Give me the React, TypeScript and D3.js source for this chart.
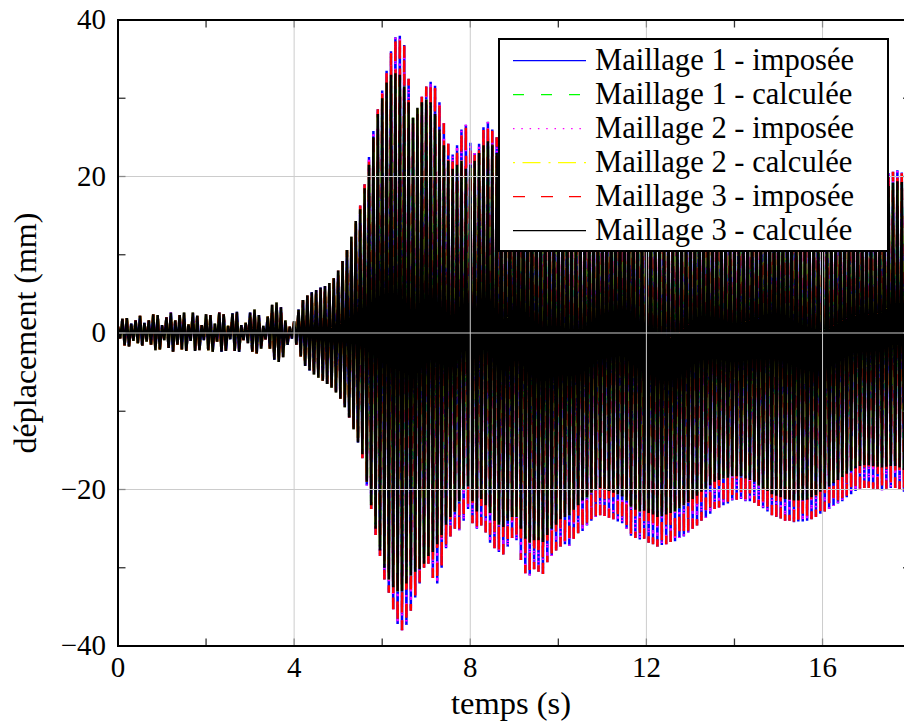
import React from "react";
import * as d3 from "d3";

// Carrier period of the oscillation (one up/down cycle per sample)
const CYCLE = 0.1;

// Envelope peaks, t = 0.0 .. 5.4 s (all meshes coincide)
const earlyUpper = [
  0.8, 1.8, 1.9, 1.2, 1.6, 2.2, 1.3, 1.6, 2.4, 2.3,
  1.0, 2.0, 2.6, 1.6, 2.3, 2.6, 1.1, 2.6, 2.2, 1.0,
  2.4, 2.3, 1.2, 2.6, 2.4, 0.9, 2.5, 2.7, 1.0, 1.3,
  2.6, 3.0, 2.3, 0.9, 2.1, 3.6, 3.9, 3.3, 1.6, 0.8,
  1.5, 3.0, 4.2, 4.8, 5.2, 5.5, 5.8, 6.0, 6.4, 7.0,
  8.0, 9.2, 10.6, 12.3, 14.3,
];
const earlyLower = [
  -0.7, -1.6, -1.7, -1.0, -1.3, -1.6, -1.1, -1.5, -2.2, -2.1,
  -0.9, -1.9, -2.4, -1.5, -2.1, -2.3, -1.0, -2.3, -2.2, -0.9,
  -2.2, -2.4, -1.1, -2.4, -2.3, -0.8, -2.3, -2.4, -0.9, -1.3,
  -2.4, -2.6, -2.0, -0.8, -2.0, -3.4, -3.7, -3.1, -1.5, -0.7,
  -1.5, -3.0, -4.2, -4.8, -5.3, -5.7, -6.1, -6.5, -7.0, -7.6,
  -8.4, -9.5, -10.8, -12.3, -14.0,
];

// t = 5.5 .. 17.9 s : imposée (outer envelope)
const impUpper = [
  16.3, 19.0, 22.5, 25.8, 28.6,
  31.0, 33.5, 36.0, 37.8, 38.0, 36.8, 32.5, 27.5, 28.0, 30.2,
  31.5, 32.1, 31.6, 29.5, 26.8, 24.2, 22.8, 24.0, 26.0, 26.6,
  24.3, 23.0, 24.2, 26.3, 27.0, 26.0, 25.0, 24.0, 23.5, 24.5,
  26.0, 27.0, 27.5, 27.0, 26.0, 25.0, 24.5, 24.0, 23.5, 23.0,
  22.5, 22.0, 21.5, 21.0, 20.5, 20.0, 20.0, 20.5, 21.0, 21.5,
  22.0, 22.5, 23.0, 23.5, 24.0, 24.0, 24.0, 23.5, 23.0, 22.5,
  22.0, 21.5, 21.0, 20.5, 20.0, 19.5, 19.5, 20.0, 20.5, 21.0,
  21.5, 22.0, 22.0, 22.0, 21.5, 21.0, 20.5, 20.0, 19.5, 19.0,
  19.0, 19.0, 19.5, 20.0, 20.5, 21.0, 21.5, 22.0, 22.5, 23.0,
  23.0, 23.0, 22.5, 22.0, 21.5, 21.0, 20.5, 20.0, 19.5, 19.0,
  19.0, 19.0, 19.0, 19.5, 19.5, 20.0, 20.0, 20.5, 20.0, 20.0,
  19.5, 19.5, 19.8, 20.0, 20.2, 20.4, 20.6, 20.8, 20.5, 20.2,
];
const impLower = [
  -16.0, -19.5, -22.5, -25.8, -28.5,
  -31.5, -33.2, -35.3, -37.2, -38.0, -37.3, -35.5, -33.8, -32.0, -30.0,
  -29.5, -31.3, -32.0, -30.0, -27.5, -26.0, -25.0, -25.2, -24.0, -22.5,
  -24.3, -25.0, -24.6, -25.5, -26.8, -27.5, -28.0, -28.3, -27.3, -26.2,
  -26.5, -29.0, -30.7, -31.0, -30.2, -30.5, -30.8, -29.3, -28.5, -27.8,
  -27.3, -27.0, -27.2, -26.3, -25.6, -25.3, -24.6, -24.0, -23.5, -23.3,
  -23.4, -23.6, -23.8, -24.1, -24.3, -25.0, -25.9, -26.2, -26.4, -26.3,
  -26.8, -27.0, -27.3, -27.1, -27.0, -26.7, -26.6, -26.2, -26.0, -25.5,
  -25.0, -24.6, -24.0, -23.6, -23.1, -22.5, -22.3, -22.0, -21.8, -21.4,
  -21.3, -21.2, -21.5, -21.5, -21.7, -22.1, -22.4, -22.8, -23.3, -23.5,
  -23.7, -24.0, -24.0, -24.2, -24.1, -24.1, -24.0, -23.8, -23.5, -23.1,
  -22.8, -22.5, -22.1, -21.8, -21.5, -21.0, -20.6, -20.2, -19.9, -19.8,
  -19.8, -19.9, -20.0, -20.1, -19.9, -19.8, -19.8, -20.0, -20.3, -20.5,
];

// t = 5.5 .. 17.9 s : calculée (inner envelope)
const calUpper = [
  15.8, 18.5, 21.5, 25.0, 28.0,
  30.0, 32.0, 33.0, 33.2, 33.0, 31.5, 29.5, 27.5, 28.8, 29.5,
  29.8, 29.5, 28.0, 26.0, 24.0, 22.0, 21.0, 21.5, 22.0, 21.0,
  21.5, 22.0, 23.0, 24.0, 24.5, 24.0, 23.0, 22.0, 21.5, 22.0,
  23.0, 24.0, 24.5, 24.0, 23.0, 22.0, 21.5, 21.0, 20.5, 20.0,
  19.5, 19.0, 18.5, 18.0, 17.5, 17.0, 17.0, 17.5, 18.0, 18.5,
  19.0, 19.5, 20.0, 20.5, 21.0, 21.0, 21.0, 20.5, 20.0, 19.5,
  19.0, 18.5, 18.0, 17.5, 17.0, 16.5, 16.5, 17.0, 17.5, 18.0,
  18.5, 19.0, 19.0, 19.0, 18.5, 18.0, 17.5, 17.0, 16.5, 16.0,
  16.0, 16.0, 16.5, 17.0, 17.5, 18.0, 18.5, 19.0, 19.5, 20.0,
  20.0, 20.0, 19.5, 19.0, 18.5, 18.0, 17.5, 17.0, 16.5, 16.0,
  16.0, 16.0, 16.0, 16.5, 16.5, 17.0, 17.0, 17.5, 17.0, 17.0,
  17.0, 17.0, 17.5, 17.5, 18.0, 18.8, 19.2, 19.4, 19.3, 19.0,
];
const calLower = [
  -15.5, -19.0, -22.0, -25.0, -27.8,
  -30.0, -31.5, -32.5, -33.0, -33.0, -32.0, -31.0, -30.5, -30.2, -29.5,
  -28.5, -28.0, -27.0, -25.8, -24.5, -23.5, -22.8, -21.5, -20.0, -19.6,
  -21.5, -22.8, -21.2, -22.0, -23.0, -24.0, -24.5, -24.8, -24.0, -23.5,
  -23.5, -25.0, -26.3, -26.8, -26.5, -26.5, -26.7, -25.8, -25.0, -24.5,
  -23.8, -23.5, -23.3, -22.6, -22.0, -21.4, -21.0, -20.4, -20.0, -19.8,
  -19.9, -20.2, -20.4, -20.6, -20.9, -21.4, -22.2, -22.6, -22.8, -22.7,
  -23.0, -23.2, -23.5, -23.4, -23.2, -23.0, -22.8, -22.4, -22.0, -21.6,
  -21.2, -20.8, -20.3, -19.9, -19.5, -19.0, -18.8, -18.6, -18.5, -18.3,
  -18.3, -18.3, -18.6, -18.8, -19.0, -19.5, -19.9, -20.2, -20.6, -20.8,
  -21.0, -21.2, -21.3, -21.4, -21.4, -21.4, -21.3, -21.0, -20.7, -20.3,
  -20.0, -19.6, -19.2, -18.8, -18.4, -18.0, -17.6, -17.3, -17.0, -16.9,
  -16.9, -17.0, -17.1, -17.2, -17.1, -17.0, -17.0, -17.2, -17.5, -17.7,
];

const seriesNames = [
  "Maillage 1 - imposée",
  "Maillage 1 - calculée",
  "Maillage 2 - imposée",
  "Maillage 2 - calculée",
  "Maillage 3 - imposée",
  "Maillage 3 - calculée",
];
const seriesGroups = ["imp", "cal", "imp", "cal", "imp", "cal"];
const seriesColors = ["#0000ff", "#00ff00", "#ff00ff", "#ffff00", "#ff0000", "#000000"];
const seriesDashes = [null, "11 17", "1.5 6.8", "2 7.5 18 8", "12 16", null];

const xTicks = [0, 4, 8, 12, 16];
const xTickLabels = ["0", "4", "8", "12", "16"];
const xMinorTicks = [2, 6, 10, 14];
const yTicks = [-40, -20, 0, 20, 40];
const yTickLabels = ["−40", "−20", "0", "20", "40"];
const yMinorTicks = [-30, -10, 10, 30];
const xGrid = [4, 8, 12, 16];
const yGrid = [-20, 0, 20];

const W = 904;
const H = 724;
const FONT = "Liberation Serif";

function buildSeries(upper: number[], lower: number[]): [number, number][] {
  const pts: [number, number][] = [];
  for (let i = 0; i < upper.length; i++) {
    pts.push([i * CYCLE, upper[i]]);
    pts.push([i * CYCLE + CYCLE / 2, lower[i]]);
  }
  return pts;
}

export default function App() {
  const x = d3.scaleLinear().domain([0, 18]).range([118, 910.6]);
  const y = d3.scaleLinear().domain([-40, 40]).range([646, 20]);
  const line = d3
    .line<[number, number]>()
    .x((d) => x(d[0]))
    .y((d) => y(d[1]));

  const x0 = x(0), x1 = x(18), y0 = y(-40), y1 = y(40);
  const tickLen = 7.5;

  const series = seriesNames.map((name, i) => {
    const up = earlyUpper.concat(seriesGroups[i] === "imp" ? impUpper : calUpper);
    const lo = earlyLower.concat(seriesGroups[i] === "imp" ? impLower : calLower);
    return { name, color: seriesColors[i], dash: seriesDashes[i], pts: buildSeries(up, lo) };
  });

  const legX = 499, legY = 39, legW = 389, legH = 212;
  const rowY0 = 60.7, rowDy = 34;

  return (
    <svg
      width={W}
      height={H}
      style={{ position: "absolute", left: 0, top: 0, background: "#fff" }}
    >
      <defs>
        <clipPath id="plotclip">
          <rect x={x0} y={y1} width={x1 - x0} height={y0 - y1} />
        </clipPath>
      </defs>
      <rect x={0} y={0} width={W} height={H} fill="#fff" />

      <g clipPath="url(#plotclip)">
        {series.map((s, i) => (
          <path
            key={i}
            d={line(s.pts) || ""}
            fill="none"
            stroke={s.color}
            strokeWidth={2.5}
            strokeDasharray={s.dash || undefined}
            strokeLinejoin="miter"
            strokeMiterlimit={3}
          />
        ))}
      </g>

      {/* grid on top of data */}
      <g stroke="#cccccc" strokeWidth={1}>
        {xGrid.map((v) => (
          <line key={"gx" + v} x1={x(v)} x2={x(v)} y1={y1} y2={y0} />
        ))}
        {yGrid.map((v) => (
          <line key={"gy" + v} x1={x0} x2={x1} y1={y(v)} y2={y(v)} />
        ))}
      </g>

      {/* ticks */}
      <g strokeWidth={1.3}>
        {xTicks.map((v) => (
          <g key={"xt" + v} stroke="#8a8a8a">
            <line x1={x(v)} x2={x(v)} y1={y0} y2={y0 - tickLen} />
            <line x1={x(v)} x2={x(v)} y1={y1} y2={y1 + tickLen} />
          </g>
        ))}
        {xMinorTicks.map((v) => (
          <g key={"xm" + v} stroke="#333">
            <line x1={x(v)} x2={x(v)} y1={y0} y2={y0 - tickLen} />
            <line x1={x(v)} x2={x(v)} y1={y1} y2={y1 + tickLen} />
          </g>
        ))}
        {yTicks.map((v) => (
          <g key={"yt" + v} stroke="#8a8a8a">
            <line x1={x0} x2={x0 + tickLen} y1={y(v)} y2={y(v)} />
            <line x1={x1} x2={x1 - tickLen} y1={y(v)} y2={y(v)} />
          </g>
        ))}
        {yMinorTicks.map((v) => (
          <g key={"ym" + v} stroke="#333">
            <line x1={x0} x2={x0 + tickLen} y1={y(v)} y2={y(v)} />
            <line x1={x1} x2={x1 - tickLen} y1={y(v)} y2={y(v)} />
          </g>
        ))}
      </g>

      {/* frame */}
      <rect x={x0} y={y1} width={x1 - x0} height={y0 - y1} fill="none" stroke="#000" strokeWidth={2} />

      {/* tick labels */}
      {xTicks.map((v, i) => (
        <text
          key={"xl" + v}
          x={x(v)}
          y={677}
          textAnchor="middle"
          style={{ fontFamily: FONT }}
          fontSize={29}
        >
          {xTickLabels[i]}
        </text>
      ))}
      {yTicks.map((v, i) => (
        <text
          key={"yl" + v}
          x={106}
          y={y(v) + 9}
          textAnchor="end"
          style={{ fontFamily: FONT }}
          fontSize={29}
        >
          {yTickLabels[i]}
        </text>
      ))}

      {/* axis titles */}
      <text x={511} y={714} textAnchor="middle" style={{ fontFamily: FONT }} fontSize={32.5}>
        temps (s)
      </text>
      <text
        transform={`translate(36, ${y(0)}) rotate(-90)`}
        textAnchor="middle"
        style={{ fontFamily: FONT }}
        fontSize={32}
      >
        déplacement (mm)
      </text>

      {/* legend */}
      <rect x={legX} y={legY} width={legW} height={legH} fill="#fff" stroke="#000" strokeWidth={2} />
      {series.map((s, i) => {
        const ry = rowY0 + i * rowDy;
        return (
          <g key={"lg" + i}>
            <line
              x1={513}
              x2={586}
              y1={ry}
              y2={ry}
              stroke={s.color}
              strokeWidth={1.3}
              strokeDasharray={s.dash || undefined}
            />
            <text x={595} y={ry + 9.5} style={{ fontFamily: FONT }} fontSize={30.6}>
              {s.name}
            </text>
          </g>
        );
      })}
    </svg>
  );
}
